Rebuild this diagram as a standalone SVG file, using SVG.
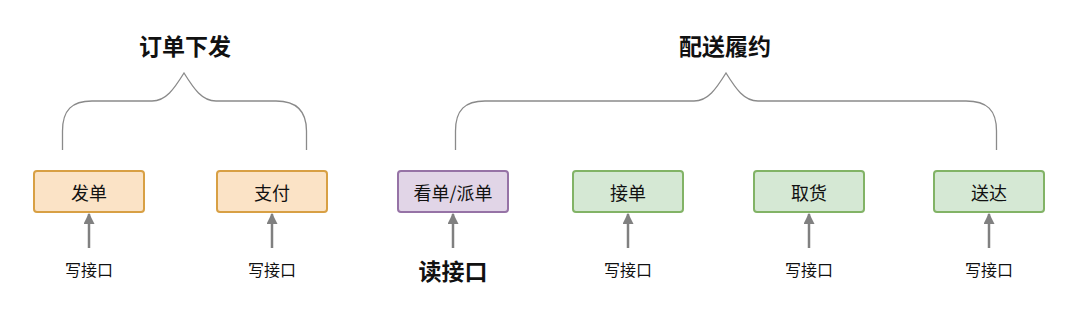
<svg xmlns="http://www.w3.org/2000/svg" width="1080" height="309" viewBox="0 0 1080 309">
<defs>
<style>
text{font-family:"Noto Sans CJK SC","Noto Sans",sans-serif;fill:#111;text-anchor:middle;dominant-baseline:central}
.title{font-size:23px;font-weight:bold}
.box{font-size:18px}
.lbl{font-size:16px}
.bold{font-size:23px;font-weight:bold}
.orange{fill:#fbe3c6;stroke:#d8a044;stroke-width:2}
.purple{fill:#e1d5e7;stroke:#9673a6;stroke-width:2}
.green{fill:#d5e8d4;stroke:#82b366;stroke-width:2}
.brace{fill:none;stroke:#8a8a8a;stroke-width:1.3}
.arr{stroke:#808080;stroke-width:2.5;fill:none;marker-end:url(#ah)}
</style>
<marker id="ah" viewBox="0 0 10 10" refX="9" refY="5" markerWidth="4.4" markerHeight="4.4" orient="auto" markerUnits="strokeWidth">
<path d="M0,0 L10,5 L0,10 z" fill="#808080"/>
</marker>
</defs>
<rect width="1080" height="309" fill="#fff"/>
<g id="title-order"><text class="title" x="185" y="45">订单下发</text></g>
<g id="title-delivery"><text class="title" x="725" y="45">配送履约</text></g>
<g id="connectors">
<path class="brace" d="M62.5,150 V131 C62.5,110 72,101 92,101 H152 C166,101 174,89 184,73 C194,89 202,101 216,101 H276 C296,101 306.5,110 306.5,131 V150"/>
<path class="brace" d="M455.5,150 V131 C455.5,110 465,101 485,101 H694 C708,101 716,89 726,73 C736,89 744,101 758,101 H966 C987,101 996.5,110 996.5,131 V150"/>
<line class="arr" x1="89" y1="248" x2="89" y2="214"/>
<line class="arr" x1="272" y1="248" x2="272" y2="214"/>
<line class="arr" x1="453" y1="248" x2="453" y2="214"/>
<line class="arr" x1="628" y1="248" x2="628" y2="214"/>
<line class="arr" x1="809" y1="248" x2="809" y2="214"/>
<line class="arr" x1="989" y1="248" x2="989" y2="214"/>
</g>
<g id="node-fadan"><rect class="orange" x="34" y="171" width="110" height="41" rx="3"/><text class="box" x="89" y="191.5">发单</text></g>
<g id="node-zhifu"><rect class="orange" x="217" y="171" width="110" height="41" rx="3"/><text class="box" x="272" y="191.5">支付</text></g>
<g id="node-kandan"><rect class="purple" x="398" y="171" width="110" height="41" rx="3"/><text class="box" x="453" y="191.5">看单/派单</text></g>
<g id="node-jiedan"><rect class="green" x="573" y="171" width="110" height="41" rx="3"/><text class="box" x="628" y="191.5">接单</text></g>
<g id="node-quhuo"><rect class="green" x="754" y="171" width="110" height="41" rx="3"/><text class="box" x="809" y="191.5">取货</text></g>
<g id="node-songda"><rect class="green" x="934" y="171" width="110" height="41" rx="3"/><text class="box" x="989" y="191.5">送达</text></g>
<g id="label-1"><text class="lbl" x="89" y="269">写接口</text></g>
<g id="label-2"><text class="lbl" x="272" y="269">写接口</text></g>
<g id="label-3"><text class="bold" x="453" y="270">读接口</text></g>
<g id="label-4"><text class="lbl" x="628" y="269">写接口</text></g>
<g id="label-5"><text class="lbl" x="809" y="269">写接口</text></g>
<g id="label-6"><text class="lbl" x="989" y="269">写接口</text></g>
</svg>
